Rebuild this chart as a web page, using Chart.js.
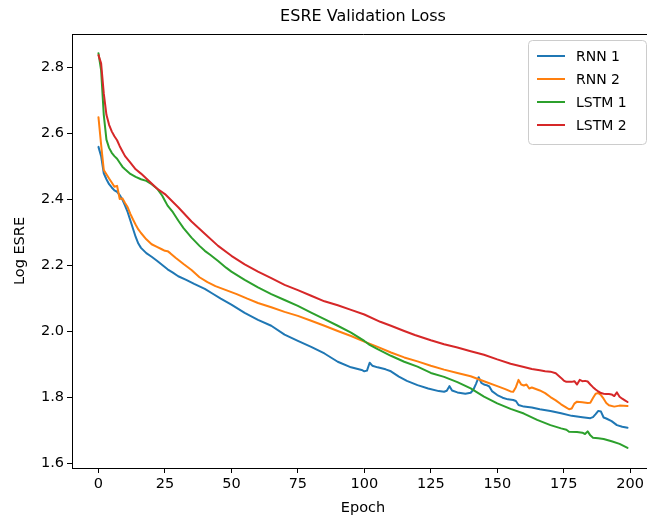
<!DOCTYPE html>
<html>
<head>
<meta charset="utf-8">
<script src="https://cdn.jsdelivr.net/npm/chart.js@4"></script>
<style>
  html, body { margin: 0; padding: 0; background: #fff; overflow: hidden; }
  #wrap { width: 647px; height: 523px; overflow: hidden; }
</style>
</head>
<body>
<div id="wrap"><canvas id="lossChart" width="660" height="523"></canvas></div>
<script>
// Dados (época -> log ESRE)
const rnn1Epochs = [0,1,2,3,4,5,6,7,8,9,10,11,12,13,14,15,16,18,20,22,24,26,28,30,33,36,40,43,46,50,55,60,65,70,75,80,85,90,95,99,100,101,102,103,105,108,110,113,116,120,124,128,130,131,132,133,135,138,140,141,142,143,144,145,146,147,148,150,152,154,156,157,158,160,163,166,170,174,178,182,185,186,187,188,189,190,191,193,195,197,199];
const rnn1Loss = [2.558,2.53,2.478,2.46,2.445,2.435,2.426,2.422,2.412,2.398,2.38,2.36,2.335,2.31,2.285,2.265,2.252,2.236,2.225,2.213,2.2,2.187,2.177,2.166,2.155,2.143,2.128,2.113,2.098,2.08,2.055,2.034,2.016,1.989,1.97,1.952,1.932,1.907,1.89,1.882,1.878,1.88,1.904,1.895,1.89,1.884,1.878,1.862,1.849,1.836,1.826,1.818,1.816,1.819,1.833,1.82,1.814,1.81,1.813,1.822,1.84,1.86,1.843,1.838,1.836,1.832,1.818,1.806,1.798,1.793,1.791,1.788,1.776,1.771,1.768,1.763,1.758,1.751,1.743,1.739,1.736,1.739,1.748,1.758,1.756,1.738,1.735,1.727,1.715,1.71,1.707];

const rnn2Epochs = [0,1,2,3,4,5,6,7,8,9,10,11,12,13,14,15,16,18,20,22,24,25,26,27,29,32,35,38,41,44,48,52,56,60,65,70,75,80,85,90,95,100,105,110,115,120,125,130,135,140,145,150,153,155,156,157,158,159,160,161,162,163,164,165,166,168,170,172,174,176,177,178,179,180,182,184,185,186,187,188,189,190,191,192,194,196,199];
const rnn2Loss = [2.648,2.565,2.488,2.475,2.462,2.45,2.437,2.44,2.4,2.402,2.388,2.375,2.355,2.338,2.322,2.308,2.297,2.278,2.263,2.255,2.247,2.243,2.242,2.236,2.222,2.203,2.185,2.163,2.148,2.136,2.124,2.112,2.098,2.085,2.072,2.058,2.046,2.031,2.016,2.0,1.985,1.968,1.952,1.935,1.92,1.908,1.895,1.883,1.873,1.863,1.848,1.833,1.824,1.817,1.816,1.83,1.852,1.838,1.835,1.838,1.826,1.829,1.826,1.823,1.82,1.812,1.8,1.79,1.778,1.768,1.763,1.765,1.78,1.786,1.784,1.782,1.783,1.797,1.81,1.812,1.806,1.795,1.782,1.775,1.771,1.774,1.773];

const lstm1Epochs = [0,1,2,3,4,5,6,7,8,9,10,12,14,16,18,20,22,24,25,26,28,30,32,35,38,40,42,45,48,50,55,60,65,70,75,80,85,90,95,100,102,105,110,115,120,125,130,135,140,145,150,155,160,165,170,174,176,177,180,182,183,184,185,186,188,190,193,196,199];
const lstm1Loss = [2.842,2.79,2.655,2.58,2.555,2.54,2.53,2.522,2.51,2.498,2.49,2.476,2.467,2.46,2.455,2.445,2.432,2.41,2.395,2.38,2.36,2.335,2.312,2.283,2.258,2.243,2.231,2.212,2.192,2.18,2.155,2.132,2.112,2.094,2.076,2.056,2.036,2.016,1.995,1.97,1.958,1.945,1.925,1.907,1.892,1.873,1.861,1.845,1.826,1.801,1.781,1.764,1.75,1.731,1.715,1.705,1.701,1.695,1.694,1.692,1.688,1.696,1.684,1.677,1.675,1.673,1.666,1.658,1.646];

const lstm2Epochs = [0,1,2,3,4,5,6,7,8,9,10,12,14,16,18,20,22,25,30,35,40,45,50,55,60,65,70,75,80,85,90,95,100,106,110,115,119,125,130,135,140,145,150,155,160,163,166,168,170,172,174,175,176,177,178,179,180,181,182,183,184,185,186,187,188,189,190,191,192,193,194,195,196,197,198,199];
const lstm2Loss = [2.836,2.811,2.72,2.655,2.625,2.605,2.59,2.578,2.56,2.545,2.53,2.51,2.49,2.477,2.462,2.447,2.432,2.415,2.375,2.332,2.295,2.258,2.228,2.202,2.18,2.16,2.14,2.124,2.107,2.09,2.078,2.064,2.05,2.028,2.016,2.0,1.988,1.972,1.96,1.95,1.939,1.928,1.914,1.901,1.891,1.885,1.881,1.878,1.877,1.872,1.858,1.85,1.846,1.846,1.846,1.848,1.838,1.852,1.848,1.849,1.847,1.838,1.83,1.823,1.817,1.812,1.81,1.809,1.809,1.808,1.803,1.814,1.801,1.795,1.79,1.785];

const xTicks = [0, 25, 50, 75, 100, 125, 150, 175, 200];
const yTicks = [1.6, 1.8, 2.0, 2.2, 2.4, 2.6, 2.8];

// Configuração visual
const FONT = "'DejaVu Sans', sans-serif";
const PLOT = { left: 72, top: 34, right: 654, bottom: 468 };
const CANVAS_W = 660, CANVAS_H = 523;

function toPoints(epochs, values) {
    return epochs.map((e, i) => ({ x: e, y: values[i] }));
}

function makeDataset(label, color, epochs, values, order) {
    return {
        label: label,
        data: toPoints(epochs, values),
        borderColor: color,
        backgroundColor: color,
        borderWidth: 2,
        pointRadius: 0,
        tension: 0,
        borderJoinStyle: 'round',
        borderCapStyle: 'round',
        order: order
    };
}

const datasets = [
    makeDataset('RNN 1', '#1f77b4', rnn1Epochs, rnn1Loss, 4),
    makeDataset('RNN 2', '#ff7f0e', rnn2Epochs, rnn2Loss, 3),
    makeDataset('LSTM 1', '#2ca02c', lstm1Epochs, lstm1Loss, 2),
    makeDataset('LSTM 2', '#d62728', lstm2Epochs, lstm2Loss, 1)
];

// Título, rótulos dos eixos, moldura e legenda
const decorPlugin = {
    id: 'decor',
    afterDraw(chart) {
        const { ctx, chartArea: a } = chart;
        ctx.save();

        // moldura superior e direita
        ctx.strokeStyle = '#000';
        ctx.lineWidth = 1;
        ctx.beginPath();
        ctx.moveTo(a.left, Math.round(a.top) + 0.5);
        ctx.lineTo(Math.round(a.right) + 0.5, Math.round(a.top) + 0.5);
        ctx.lineTo(Math.round(a.right) + 0.5, a.bottom);
        ctx.stroke();

        ctx.fillStyle = '#000';
        ctx.textAlign = 'center';
        ctx.textBaseline = 'middle';

        ctx.font = '16px ' + FONT;
        ctx.fillText('ESRE Validation Loss', (a.left + a.right) / 2, 17);

        ctx.font = '14.5px ' + FONT;
        ctx.fillText('Epoch', (a.left + a.right) / 2, 508);

        ctx.save();
        ctx.translate(20, (a.top + a.bottom) / 2);
        ctx.rotate(-Math.PI / 2);
        ctx.fillText('Log ESRE', 0, 0);
        ctx.restore();

        // legenda
        const bx = 528, by = 40, bw = 118, bh = 104, r = 4;
        ctx.fillStyle = 'rgba(255,255,255,0.8)';
        ctx.strokeStyle = '#cccccc';
        ctx.lineWidth = 1;
        ctx.beginPath();
        ctx.roundRect(bx + 0.5, by + 0.5, bw, bh, r);
        ctx.fill();
        ctx.stroke();

        ctx.font = '14px ' + FONT;
        ctx.textAlign = 'left';
        const legendItems = chart.data.datasets;
        legendItems.forEach((ds, i) => {
            const y = 56 + i * 23;
            ctx.strokeStyle = ds.borderColor;
            ctx.lineWidth = 2;
            ctx.beginPath();
            ctx.moveTo(537, y);
            ctx.lineTo(565, y);
            ctx.stroke();
            ctx.fillStyle = '#000';
            ctx.fillText(ds.label, 576, y + 1);
        });

        ctx.restore();
    }
};

const ctx = document.getElementById('lossChart');
const chart = new Chart(ctx, {
    type: 'line',
    data: { datasets: datasets },
    options: {
        responsive: false,
        animation: false,
        devicePixelRatio: 1,
        layout: {
            padding: { top: PLOT.top, left: 0, right: CANVAS_W - PLOT.right, bottom: 0 }
        },
        plugins: {
            legend: { display: false },
            title: { display: false },
            tooltip: { enabled: false }
        },
        scales: {
            x: {
                type: 'linear',
                min: -9.95,
                max: 208.95,
                afterBuildTicks: (scale) => {
                    scale.ticks = xTicks.map(v => ({ value: v }));
                },
                afterFit: (scale) => { scale.height = CANVAS_H - PLOT.bottom; },
                grid: {
                    drawOnChartArea: false,
                    drawTicks: true,
                    tickLength: 5,
                    tickColor: '#000',
                    tickWidth: 1
                },
                border: { display: true, color: '#000', width: 1 },
                ticks: {
                    color: '#000',
                    font: { family: FONT, size: 14.5 },
                    padding: 3,
                    maxRotation: 0,
                    autoSkip: false,
                    callback: (v) => String(v)
                }
            },
            y: {
                type: 'linear',
                min: 1.585,
                max: 2.9,
                afterBuildTicks: (scale) => {
                    scale.ticks = yTicks.map(v => ({ value: v }));
                },
                afterFit: (scale) => { scale.width = PLOT.left; },
                grid: {
                    drawOnChartArea: false,
                    drawTicks: true,
                    tickLength: 5,
                    tickColor: '#000',
                    tickWidth: 1
                },
                border: { display: true, color: '#000', width: 1 },
                ticks: {
                    color: '#000',
                    font: { family: FONT, size: 14.5 },
                    padding: 3,
                    autoSkip: false,
                    callback: (v) => Number(v).toFixed(1)
                }
            }
        }
    },
    plugins: [decorPlugin]
});
</script>
</body>
</html>
